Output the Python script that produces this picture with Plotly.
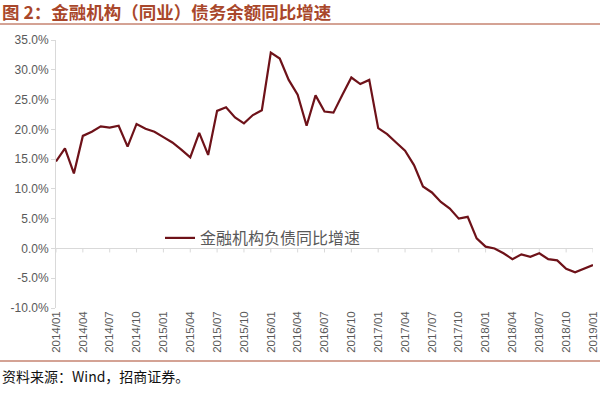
import plotly.graph_objects as go

months = [f"{y}/{m:02d}" for y in range(2014, 2019) for m in range(1, 13)] + ["2019/01"]

growth = [
    14.6, 16.8, 12.6, 18.9, 19.6, 20.5, 20.3, 20.6, 17.1, 20.9, 20.1, 19.6,
    18.7, 17.8, 16.6, 15.3, 19.4, 15.7, 23.1, 23.7, 22.0, 21.0, 22.4, 23.2,
    32.9, 31.9, 28.3, 25.8, 20.6, 25.7, 23.0, 22.8, 25.8, 28.7, 27.6, 28.3,
    20.2, 19.2, 17.8, 16.4, 14.0, 10.4, 9.4, 7.8, 6.7, 5.0, 5.3, 1.7,
    0.3, 0.0, -0.8, -1.8, -1.0, -1.4, -0.8, -1.8, -2.0, -3.4, -4.0, -3.4,
    -2.8,
]

tick_labels = months[::3]
y_ticks = [-10, -5, 0, 5, 10, 15, 20, 25, 30, 35]
y_tick_text = [f"{v:.1f}%" for v in y_ticks]

series_name = "金融机构负债同比增速"
title_text = "图 2：金融机构（同业）债务余额同比增速"
source_text = "资料来源：Wind，招商证券。"

W, H = 600, 394
ml, mr, mt, mb = 56, 7, 40, 86
ymin, ymax = -10, 35
plot_h = H - mt - mb
plot_w = W - ml - mr
tick_len_data = 4 * (ymax - ymin) / plot_h

fig = go.Figure()
fig.add_trace(go.Scatter(
    x=months, y=growth, mode="lines", name=series_name,
    line=dict(color="#6e1219", width=2.2),
))

font_family = "Noto Sans CJK SC, Noto Sans, sans-serif"
axis_grey = "#d9d9d9"

shapes = [
    dict(type="line", xref="paper", yref="paper",
         x0=-ml / plot_w, x1=1 + mr / plot_w,
         y0=1 + (mt - 24) / plot_h, y1=1 + (mt - 24) / plot_h,
         line=dict(color="#a9472b", width=1)),
    dict(type="line", xref="paper", yref="paper",
         x0=-ml / plot_w, x1=1 + mr / plot_w,
         y0=-(361 - (H - mb)) / plot_h, y1=-(361 - (H - mb)) / plot_h,
         line=dict(color="#a9472b", width=1)),
]
# tick marks on the zero-crossing category axis
for t in tick_labels:
    shapes.append(dict(type="line", xref="x", yref="y", x0=t, x1=t,
                       y0=0, y1=-tick_len_data,
                       line=dict(color=axis_grey, width=1), layer="below"))

fig.update_layout(
    width=W, height=H,
    margin=dict(l=ml, r=mr, t=mt, b=mb, autoexpand=False),
    paper_bgcolor="white", plot_bgcolor="white",
    font=dict(family=font_family, color="#595959", size=11),
    showlegend=True,
    legend=dict(
        x=(160 - ml) / plot_w, y=(H - mb - 238) / plot_h,
        xanchor="left", yanchor="middle",
        bgcolor="rgba(0,0,0,0)", itemwidth=30,
        font=dict(size=16, color="#595959", family=font_family),
    ),
    xaxis=dict(
        type="category", categoryorder="array", categoryarray=months,
        range=[0, len(months) - 1], autorange=False,
        tickmode="array", tickvals=tick_labels, ticktext=tick_labels,
        tickangle=-90, showgrid=False, showline=False, ticks="",
        zeroline=False,
        tickfont=dict(size=11.5, color="#595959", family="Liberation Sans, Arial, sans-serif"),
    ),
    yaxis=dict(
        range=[ymin, ymax], autorange=False, tickmode="array",
        tickvals=y_ticks, ticktext=y_tick_text,
        showgrid=False, zeroline=True, zerolinecolor=axis_grey, zerolinewidth=1,
        showline=True, linecolor=axis_grey, linewidth=1,
        ticks="outside", ticklen=4, tickcolor=axis_grey,
        tickfont=dict(size=12, color="#595959", family="Liberation Sans, Arial, sans-serif"),
    ),
    annotations=[
        dict(text=f"<b>{title_text}</b>", xref="paper", yref="paper",
             x=-ml / plot_w, y=1 + (mt - 12) / plot_h,
             xanchor="left", yanchor="middle", showarrow=False,
             font=dict(size=17.5, color="#a9472b", family=font_family)),
        dict(text=source_text, xref="paper", yref="paper",
             x=-ml / plot_w, y=-(376 - (H - mb)) / plot_h,
             xanchor="left", yanchor="middle", showarrow=False,
             font=dict(size=14, color="#111111", family=font_family)),
    ],
    shapes=shapes,
)

fig.write_html("out.html", config={"displayModeBar": False},
               post_script="document.body.style.margin='0';")
